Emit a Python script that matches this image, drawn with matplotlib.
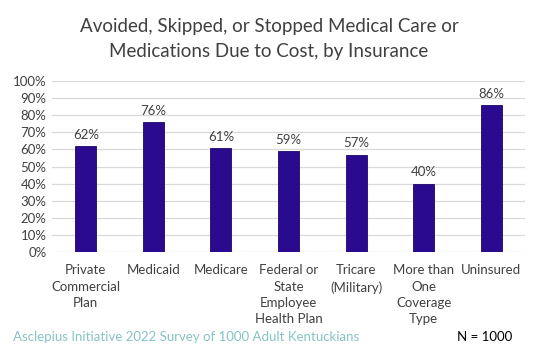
import matplotlib.pyplot as plt
import numpy as np

# data
categories = ['Private\nCommercial\nPlan', 'Medicaid', 'Medicare', 'Federal or\nState\nEmployee\nHealth Plan',
              'Tricare\n(Military)', 'More than\nOne\nCoverage\nType', 'Uninsured']
values = [62, 76, 61, 59, 57, 40, 86]
yticks = [0, 10, 20, 30, 40, 50, 60, 70, 80, 90, 100]

barColor = '#2a0a8f'
textColor = '#404040'

plt.rcParams['font.family'] = ['Lato', 'DejaVu Sans']

fig = plt.figure(figsize=(5.38, 3.52), dpi=100)
ax = fig.add_axes([52/538, 1 - 252/352, 473/538, 171/352])

x = np.arange(len(categories))
ax.bar(x, values, width=0.31, color=barColor, edgecolor='#1c0566', linewidth=0.6, zorder=3)
for xi, v in zip(x, values):
    ax.text(xi, v + 3, f'{v}%', ha='center', va='bottom', fontsize=9.5, color=textColor)

ax.set_xlim(-0.5, len(categories) - 0.5)
ax.set_ylim(0, 100)
ax.set_yticks(yticks)
ax.set_yticklabels([f'{t}%' for t in yticks], fontsize=9.5, color=textColor)
ax.set_xticks(x)
ax.set_xticklabels(categories, fontsize=9.5, color=textColor, linespacing=1.43, va='top')
ax.yaxis.grid(True, color='#d9d9d9', linewidth=0.9, zorder=0)
ax.tick_params(length=0, pad=9)
ax.tick_params(axis='y', pad=4)
for s in ax.spines.values():
    s.set_visible(False)

fig.text(0.5, 1 - 39/352, 'Avoided, Skipped, or Stopped Medical Care or\nMedications Due to Cost, by Insurance',
         ha='center', va='center', fontsize=13.5, color=textColor, linespacing=1.55)
fig.text(13/538, 1 - 337/352, 'Asclepius Initiative 2022 Survey of 1000 Adult Kentuckians',
         ha='left', va='center', fontsize=9.5, color='#86c3c6')
fig.text(512/538, 1 - 337/352, 'N = 1000', ha='right', va='center', fontsize=9.5, color='black')

fig.savefig('out.png', dpi=100)
